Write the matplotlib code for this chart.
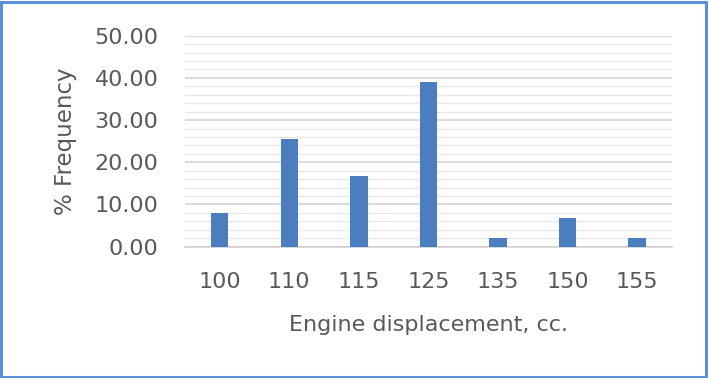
import matplotlib
matplotlib.use("Agg")
import matplotlib.pyplot as plt
import matplotlib.patches as patches
from matplotlib.ticker import MultipleLocator

plt.rcParams['font.family'] = ['DejaVu Sans']

displacement = ['100', '110', '115', '125', '135', '150', '155']
pct_freq = [7.9, 25.5, 16.7, 39.0, 2.1, 6.8, 2.1]

text_grey = '#595959'

fig = plt.figure(figsize=(7.08, 3.78), dpi=100)
ax = fig.add_axes([0.2613, 0.3474, 0.6874, 0.5582])

x = range(len(displacement))
ax.bar(x, pct_freq, width=0.25, color='#4a7ebf', zorder=3)

ax.set_xlim(-0.5, len(displacement) - 0.5)
ax.set_ylim(0, 50)
ax.yaxis.set_major_locator(MultipleLocator(10))
ax.yaxis.set_minor_locator(MultipleLocator(2))
ax.yaxis.set_major_formatter(lambda v, pos: '%.2f' % v)
ax.set_xticks(list(x))
ax.set_xticklabels(displacement)

ax.grid(axis='y', which='major', color='#d4d4d4', linewidth=1.2, zorder=0)
ax.grid(axis='y', which='minor', color='#e8e8e8', linewidth=1.0, zorder=0)

for s in ax.spines:
    ax.spines[s].set_visible(False)
ax.spines['bottom'].set_visible(True)
ax.spines['bottom'].set_color('#d0d0d0')
ax.spines['bottom'].set_linewidth(1.2)

ax.tick_params(axis='both', which='both', length=0, labelsize=16,
               labelcolor=text_grey)
ax.tick_params(axis='y', pad=19)
ax.tick_params(axis='x', pad=18.5)

ax.set_xlabel('Engine displacement, cc.', fontsize=16, color=text_grey,
              labelpad=16)
ax.set_ylabel('% Frequency', fontsize=16.5, color=text_grey, labelpad=13)

# chart frame
fig.patches.append(patches.Rectangle((0.002, 0.003), 0.995, 0.992,
                                     transform=fig.transFigure, fill=False,
                                     edgecolor='#5b8fd6', linewidth=2.2))

fig.savefig('out.png', dpi=100)
